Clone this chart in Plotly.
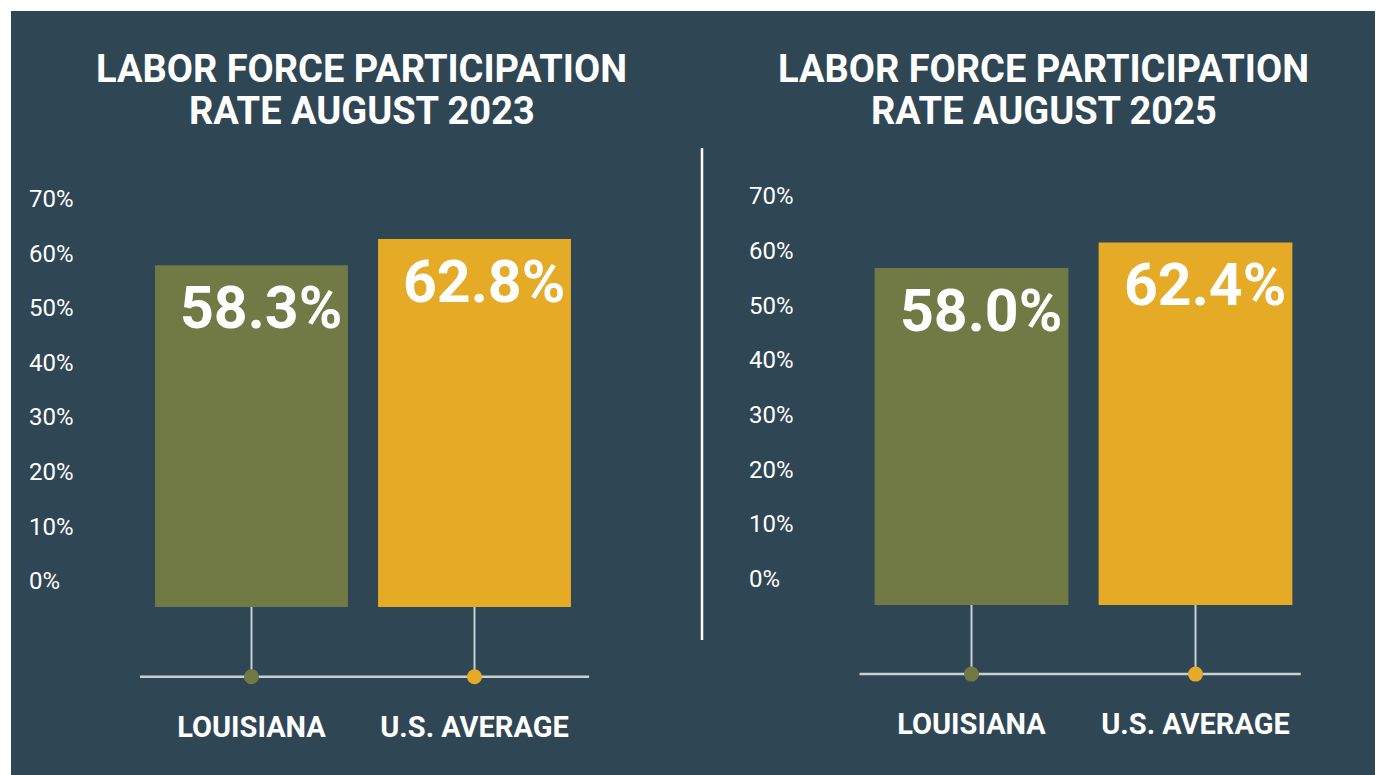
import plotly.graph_objects as go

# ---------------------------------------------------------------------------
# Datos
# ---------------------------------------------------------------------------
categorias = ["LOUISIANA", "U.S. AVERAGE"]
tasas_2023 = [58.3, 62.8]
tasas_2025 = [58.0, 62.4]
titulo_2023 = ["LABOR FORCE PARTICIPATION", "RATE AUGUST 2023"]
titulo_2025 = ["LABOR FORCE PARTICIPATION", "RATE AUGUST 2025"]
ticks_pct = [0, 10, 20, 30, 40, 50, 60, 70]
ticks_txt = [f"{t}%" for t in ticks_pct]

# Estilo
FONDO = "#2F4654"
COLORES = ["#717944", "#E5AA26"]
GRIS = "#C9CED1"
FUENTE = "Roboto"
BASE = -11.9  # nivel de la línea base bajo las barras

W, H = 1383, 775
OFF = 8  # margen por defecto del <body> de la página


def px(x):
    return (x - OFF) / W


def py(y):
    return 1 - (y - OFF) / H


fig = go.Figure()

paneles = [
    # valores, eje x, eje y barras, eje y ticks
    (tasas_2023, "x", "y", "y3"),
    (tasas_2025, "x2", "y2", "y4"),
]

for valores, xa, ya, yt in paneles:
    # Tallos (stems)
    for cat in categorias:
        fig.add_trace(go.Scatter(
            x=[cat, cat], y=[0, BASE], mode="lines",
            line=dict(color=GRIS, width=2),
            hoverinfo="skip", showlegend=False,
            xaxis=xa, yaxis=ya, cliponaxis=False
        ))
    # Barras
    fig.add_trace(go.Bar(
        x=categorias, y=valores,
        marker=dict(color=COLORES, line=dict(width=0)),
        showlegend=False, xaxis=xa, yaxis=ya,
        hovertemplate="%{x}: %{y}%<extra></extra>"
    ))
    # Puntos sobre la línea base
    fig.add_trace(go.Scatter(
        x=categorias, y=[BASE] * len(categorias), mode="markers",
        marker=dict(size=15, color=COLORES),
        hoverinfo="skip", showlegend=False,
        xaxis=xa, yaxis=ya, cliponaxis=False
    ))
    # Traza invisible para el eje de porcentajes
    fig.add_trace(go.Scatter(
        x=[categorias[0]], y=[0], mode="markers",
        marker=dict(opacity=0), hoverinfo="skip", showlegend=False,
        xaxis=xa, yaxis=yt
    ))
    # Etiquetas de valor
    for cat, v in zip(categorias, valores):
        fig.add_annotation(
            x=cat, y=v, xref=xa, yref=ya,
            text=f"{v:.1f}%", showarrow=False,
            yanchor="middle", yshift=-42, xshift=9,
            font=dict(family=FUENTE, size=59, color="white", weight="bold")
        )

# Títulos (una anotación por línea para controlar el interlineado)
for cx, lineas in [(361.5, titulo_2023), (1043.5, titulo_2025)]:
    for cy, linea in zip([69, 111], lineas):
        fig.add_annotation(
            x=px(cx), y=py(cy), xref="paper", yref="paper",
            text=linea, showarrow=False, xanchor="center", yanchor="middle",
            font=dict(family=FUENTE, size=38, color="white", weight="bold")
        )

eje_x = dict(type="category", range=[-0.5, 1.5], showgrid=False,
             zeroline=False, showline=False, ticks="", automargin=False,
             ticklabelstandoff=18, fixedrange=True,
             tickfont=dict(family=FUENTE, size=29, color="white", weight="bold"))
eje_y = dict(range=[-14, 72], showgrid=False, zeroline=False, automargin=False,
             showline=False, showticklabels=False, fixedrange=True)
eje_ticks = dict(range=[0, 70], anchor="free", side="right",
                 tickmode="array", tickvals=ticks_pct, ticktext=ticks_txt,
                 showgrid=False, automargin=False,
                 zeroline=False, showline=False, ticks="", fixedrange=True,
                 tickfont=dict(family=FUENTE, size=24, color="white"))

fig.update_layout(
    width=W, height=H,
    margin=dict(l=0, r=0, t=0, b=0, pad=0, autoexpand=False),
    paper_bgcolor="white",
    plot_bgcolor="rgba(0,0,0,0)",
    bargap=0.135,
    xaxis=dict(eje_x, domain=[px(140), px(586)], anchor="y"),
    xaxis2=dict(eje_x, domain=[px(859.5), px(1307.5)], anchor="y2"),
    yaxis=dict(eje_y, domain=[py(689.0), py(185.1)], anchor="x"),
    yaxis2=dict(eje_y, domain=[py(686.3), py(186.7)], anchor="x2"),
    yaxis3=dict(eje_ticks, domain=[py(581), py(198.5)], position=px(28)),
    yaxis4=dict(eje_ticks, domain=[py(578.5), py(196)], position=px(748)),
    shapes=[
        # Panel de fondo
        dict(type="rect", xref="paper", yref="paper",
             x0=px(11), x1=1, y0=0, y1=py(11),
             fillcolor=FONDO, line=dict(width=0), layer="below"),
        # Separador vertical
        dict(type="line", xref="paper", yref="paper",
             x0=px(702), x1=px(702), y0=py(148), y1=py(640),
             line=dict(color="white", width=2.5)),
        # Líneas base
        dict(type="line", xref="x domain", yref="y",
             x0=0, x1=1.007, y0=BASE, y1=BASE,
             line=dict(color=GRIS, width=2.5), layer="below"),
        dict(type="line", xref="x2 domain", yref="y2",
             x0=0, x1=0.985, y0=BASE, y1=BASE,
             line=dict(color=GRIS, width=2.5), layer="below"),
    ],
)

fig.write_html("out.html")
